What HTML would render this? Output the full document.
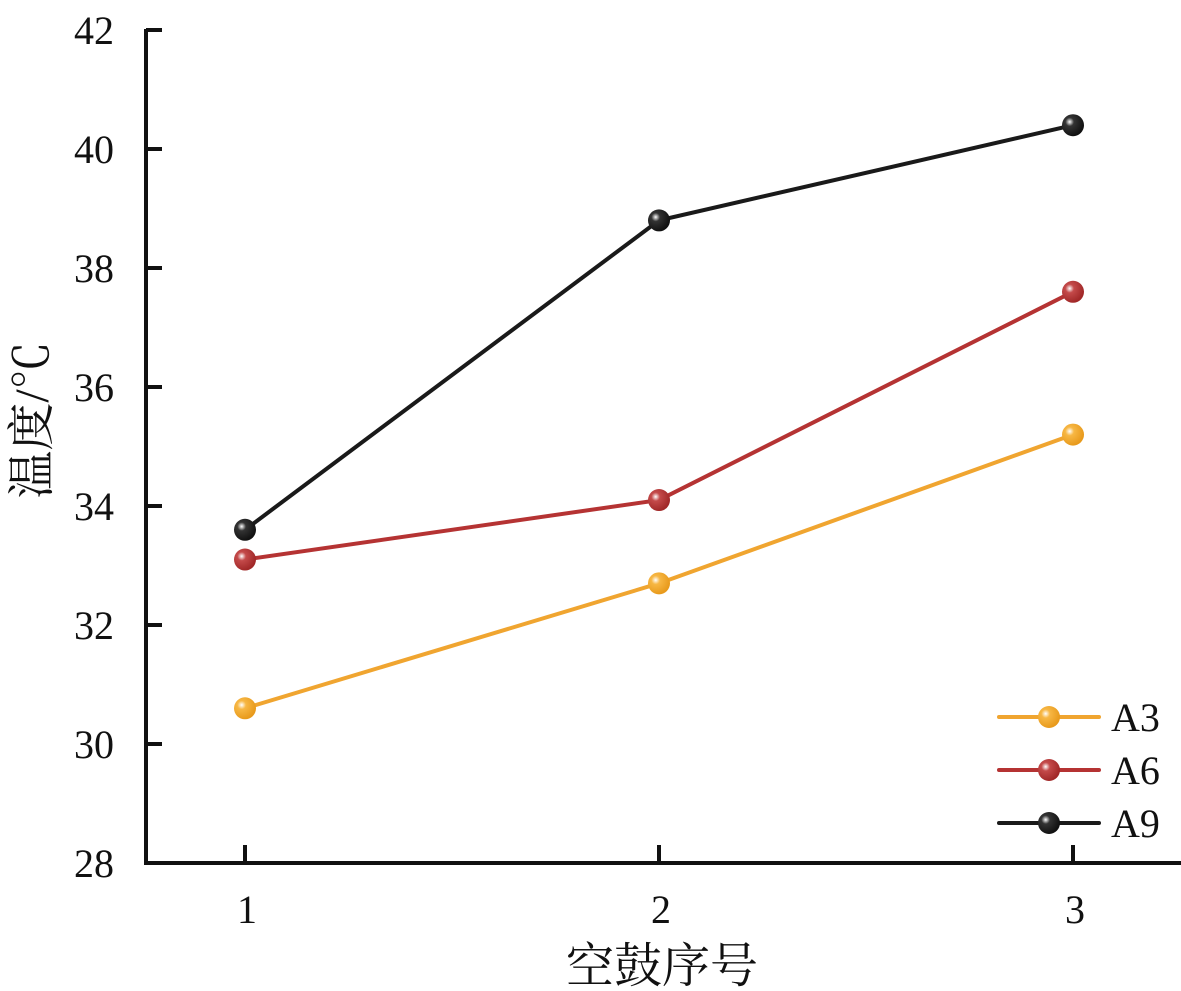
<!DOCTYPE html>
<html><head><meta charset="utf-8"><style>
html,body{margin:0;padding:0;background:#fff;}
svg{display:block;font-family:"Liberation Serif","Noto Serif CJK SC",serif;}
</style></head><body>
<svg id="chart" width="1181" height="991" viewBox="0 0 1181 991">
<defs>
<radialGradient id="g0" cx="35%" cy="35%" r="65%"><stop offset="0" stop-color="#fff"/><stop offset="0.3" stop-color="#f7b744"/><stop offset="1" stop-color="#e89a1c"/></radialGradient>
<radialGradient id="g1" cx="35%" cy="35%" r="65%"><stop offset="0" stop-color="#fff"/><stop offset="0.3" stop-color="#c44a4a"/><stop offset="1" stop-color="#a12828"/></radialGradient>
<radialGradient id="g2" cx="35%" cy="35%" r="65%"><stop offset="0" stop-color="#fff"/><stop offset="0.3" stop-color="#333"/><stop offset="1" stop-color="#111"/></radialGradient>
</defs>
<g id="axes"></g>
<g id="series"></g>
<g id="legend"></g>
</svg>
<script>
const categories = [1, 2, 3];
const seriesNames = ["A3", "A6", "A9"];
const a3 = [30.6, 32.7, 35.2];
const a6 = [33.1, 34.1, 37.6];
const a9 = [33.6, 38.8, 40.4];
const yTicks = [28, 30, 32, 34, 36, 38, 40, 42];

const NS = "http://www.w3.org/2000/svg";
const colors = ["#f0a530", "#b53333", "#1a1a1a"];
const grads = ["url(#g0)", "url(#g1)", "url(#g2)"];
const x = v => 245 + (v - 1) * 414;
const y = v => 863 - (v - 28) * 59.5;
function mk(tag, attrs, parent, text) {
  const e = document.createElementNS(NS, tag);
  for (const k in attrs) e.setAttribute(k, attrs[k]);
  if (text !== undefined) e.textContent = text;
  parent.appendChild(e);
  return e;
}
const axes = document.getElementById("axes");
let e = mk("line", {x1: 146, y1: 29, x2: 146, y2: 865, stroke: "#111", "stroke-width": 4}, axes);


e = mk("line", {x1: 144, y1: 863, x2: 1181, y2: 863, stroke: "#111", "stroke-width": 4}, axes);


yTicks.forEach(t => {
  const tk = mk("line", {x1: 146, y1: y(t), x2: 162, y2: y(t), stroke: "#111", "stroke-width": 4}, axes);
  
  
  const lb = mk("text", {x: 114, y: y(t) + 14, "text-anchor": "end", "font-size": 40, fill: "#111"}, axes, t);
  
  
});
categories.forEach(c => {
  const tk = mk("line", {x1: x(c), y1: 863, x2: x(c), y2: 845, stroke: "#111", "stroke-width": 4}, axes);
  
  
  const lb = mk("text", {x: x(c) + 2, y: 923, "text-anchor": "middle", "font-size": 40, fill: "#111"}, axes, c);
  
  
});
e = mk("text", {x: 662, y: 982, "text-anchor": "middle", "font-size": 48, fill: "#111"}, axes, "空鼓序号");


e = mk("text", {x: 0, y: 0, "text-anchor": "middle", "font-size": 48, fill: "#111", transform: "translate(48,420) rotate(-90)"}, axes, "温度/℃");



const series = document.getElementById("series");
[a3, a6, a9].forEach((vals, i) => {
  const pts = vals.map((v, j) => x(categories[j]) + "," + y(v)).join(" ");
  const pl = mk("polyline", {points: pts, fill: "none", stroke: colors[i], "stroke-width": 4}, series);
  
  
  vals.forEach((v, j) => {
    const c = mk("circle", {cx: x(categories[j]), cy: y(v), r: 11, fill: grads[i]}, series);
    
    
  });
});

const legend = document.getElementById("legend");
seriesNames.forEach((n, i) => {
  const ly = 717 + i * 53;
  const ln = mk("line", {x1: 999, y1: ly, x2: 1099, y2: ly, stroke: colors[i], "stroke-width": 4, "stroke-linecap": "round"}, legend);
  
  
  const c = mk("circle", {cx: 1049, cy: ly, r: 11, fill: grads[i]}, legend);
  
  
  const t = mk("text", {x: 1111, y: ly + 14, "font-size": 40, fill: "#111"}, legend, n);
  
  
});
</script>
</body></html>
